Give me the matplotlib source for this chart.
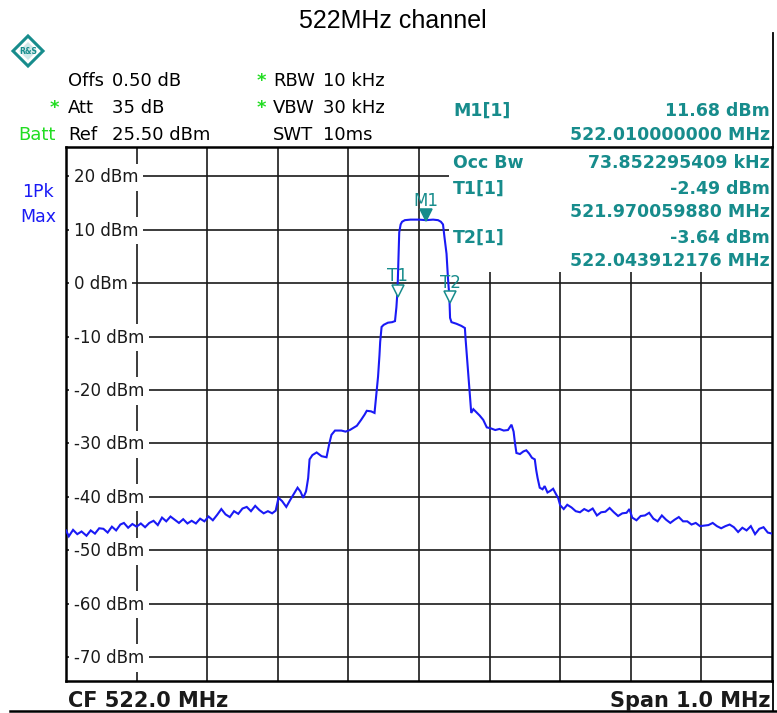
import matplotlib
matplotlib.use("Agg")
import matplotlib.pyplot as plt
import matplotlib.transforms as mtransforms
from matplotlib.patches import Rectangle, Polygon
from matplotlib.lines import Line2D

# ---------------- data ----------------
title = "522MHz channel"
center_mhz = 522.0
span_mhz = 1.0
ref_level = 25.5
range_db = 100.0

ytick_values = [20, 10, 0, -10, -20, -30, -40, -50, -60, -70]
ytick_labels = ["20 dBm", "10 dBm", "0 dBm", "-10 dBm", "-20 dBm", "-30 dBm",
                "-40 dBm", "-50 dBm", "-60 dBm", "-70 dBm"]
xgrid_offsets_mhz = [-0.4, -0.3, -0.2, -0.1, 0.0, 0.1, 0.2, 0.3, 0.4]

# trace: (offset from centre in kHz, level in dBm)
trace_left_noise = [
    (-500, -46.3), (-496, -47.4), (-490, -46.2), (-484, -47.0), (-478, -46.5), (-471, -47.3),
    (-465, -46.3), (-459, -46.9), (-453, -45.9), (-447, -46.0), (-441, -46.7), (-435, -45.6),
    (-429, -46.3), (-423, -45.2), (-418, -44.9), (-412, -45.8), (-406, -45.1), (-400, -45.6),
    (-394, -45.0), (-388, -45.7), (-382, -44.9), (-376, -44.5), (-370, -45.3), (-364, -43.9),
    (-358, -44.6), (-352, -43.7), (-346, -44.3), (-340, -44.9), (-334, -44.2), (-328, -45.0),
    (-322, -44.5), (-316, -45.0), (-310, -44.1), (-304, -44.6), (-298, -43.7), (-292, -44.4),
    (-286, -43.4), (-280, -42.3), (-274, -43.3), (-268, -43.8), (-262, -42.7), (-256, -43.2),
    (-250, -42.2), (-244, -41.9), (-238, -42.7), (-232, -41.7), (-226, -42.5), (-220, -43.1),
    (-214, -42.7), (-208, -43.1), (-203, -42.6),
]
trace_left_shoulder = [
    (-199, -40.2), (-194, -40.8), (-188, -41.9), (-182, -40.5), (-176, -39.2), (-172, -38.3),
    (-168, -39.0), (-164, -40.2), (-160, -39.0), (-157, -36.5), (-155, -33.0), (-151, -32.2),
    (-145, -31.7), (-138, -32.4), (-131, -32.6), (-127, -30.0), (-124, -28.4), (-119, -27.6),
    (-110, -27.6), (-104, -27.8), (-98, -27.5), (-93, -27.1), (-88, -26.7), (-82, -25.6),
    (-77, -24.6), (-74, -23.9), (-68, -24.0), (-63, -24.3), (-61, -21.5), (-60, -20.1),
    (-58, -17.5), (-56, -13.5), (-55, -11.0), (-53, -8.2), (-50, -7.8), (-44, -7.4),
    (-38, -7.3), (-34, -7.1),
]
trace_main = [
    (-32, -4.5), (-31, -2.5), (-30, 0.5), (-29, 5.0), (-28, 9.5), (-26, 11.0), (-24, 11.5),
    (-20, 11.8), (-12, 11.9), (0, 11.9), (10, 11.8), (20, 11.9), (27, 11.8), (31, 11.5),
    (34, 11.0), (36, 8.7), (39, 5.5), (41, 1.0), (43, -2.5), (44, -6.5), (46, -7.3),
    (53, -7.6), (60, -8.0), (65, -8.4),
]
trace_right_shoulder = [
    (66, -10.5), (68, -14.0), (70, -17.5), (72, -21.0), (74, -24.3), (77, -23.6), (80, -24.0),
    (86, -24.8), (91, -25.6), (96, -27.0), (102, -27.2), (108, -27.5), (114, -27.3),
    (120, -27.6), (126, -27.5), (131, -26.5), (134, -27.8), (136, -30.0), (138, -31.8),
    (143, -32.0), (148, -31.5), (152, -31.3), (156, -31.9), (160, -32.7), (164, -33.0),
    (166, -35.0), (168, -36.5), (171, -38.3), (175, -38.6), (178, -38.0), (182, -39.2),
    (186, -38.9), (190, -38.5), (194, -39.5), (197, -40.2),
]
trace_right_noise = [
    (200, -41.6), (205, -42.3), (210, -41.5), (216, -42.0), (222, -42.7), (228, -42.9),
    (234, -42.3), (240, -42.7), (246, -42.2), (252, -43.5), (258, -42.9), (264, -42.8),
    (270, -42.1), (276, -42.9), (282, -43.6), (288, -43.1), (294, -43.0), (298, -42.3),
    (302, -43.9), (308, -44.4), (314, -43.6), (320, -43.5), (326, -43.0), (332, -44.1),
    (338, -44.6), (344, -43.5), (350, -44.3), (356, -44.9), (362, -44.3), (368, -43.8),
    (374, -44.6), (380, -44.6), (386, -45.2), (392, -44.9), (398, -45.5), (404, -45.4),
    (410, -45.3), (416, -44.9), (422, -45.5), (428, -45.9), (434, -45.5), (440, -45.2),
    (446, -45.7), (452, -46.6), (458, -45.8), (464, -46.3), (470, -45.5), (476, -47.0),
    (482, -46.0), (488, -45.7), (494, -46.7), (500, -46.9),
]

marker_names = ["M1", "T1", "T2"]
marker_freqs = [522.010000000, 521.970059880, 522.043912176]
marker_levels = [11.68, -2.49, -3.64]
marker_filled = [True, False, False]

header_rows = [
    ("Offs", "0.50 dB", False, "RBW", "10 kHz", True),
    ("Att", "35 dB", True, "VBW", "30 kHz", True),
    ("Ref", "25.50 dBm", False, "SWT", "10ms", False),
]
readout_rows = [
    ("M1[1]", "11.68 dBm"),
    ("", "522.010000000 MHz"),
    ("Occ Bw", "73.852295409 kHz"),
    ("T1[1]", "-2.49 dBm"),
    ("", "521.970059880 MHz"),
    ("T2[1]", "-3.64 dBm"),
    ("", "522.043912176 MHz"),
]
footer_left = "CF 522.0 MHz"
footer_right = "Span 1.0 MHz"

# ---------------- figure ----------------
W, H = 777, 713
fig = plt.figure(figsize=(W / 100, H / 100), dpi=100)
fig.patch.set_facecolor("white")


def fx(x):
    return x / W


def fy(y):
    return 1 - y / H


TEAL = "#178c8c"
GREEN = "#22dd22"
BLUE = "#1a1af5"
INK = "#1a1a1a"

ax = fig.add_axes([fx(66), fy(681), fx(772) - fx(66), fy(147) - fy(681)])
ax.set_xlim(center_mhz - span_mhz / 2, center_mhz + span_mhz / 2)
ax.set_ylim(ref_level - range_db, ref_level)
ax.set_xticks([center_mhz + o for o in xgrid_offsets_mhz])
ax.set_yticks(ytick_values)
ax.tick_params(length=0, labelbottom=False, labelleft=False)
ax.set_axisbelow(True)
ax.grid(True, color=INK, linewidth=1.2)
for s in ax.spines.values():
    s.set_linewidth(1.8)
    s.set_color("black")

# white read-out area in the upper right of the diagram
ax.add_patch(Rectangle((0.5425, 0.766), 0.46, 0.24, transform=ax.transAxes,
                       facecolor="white", edgecolor="none", zorder=1, clip_on=True))

# y labels with white background breaking the grid
lab_tr = mtransforms.blended_transform_factory(ax.transAxes, ax.transData) + \
    mtransforms.ScaledTranslation(0, -6 / 100, fig.dpi_scale_trans)
for v, lab in zip(ytick_values, ytick_labels):
    ax.text(0.011, v, lab, transform=lab_tr, ha="left", va="baseline",
            fontsize=12, color=INK, family="DejaVu Sans", zorder=2,
            bbox=dict(boxstyle="square,pad=0.28", facecolor="white", edgecolor="none"))

# trace
pts = trace_left_noise + trace_left_shoulder + trace_main + trace_right_shoulder + trace_right_noise
trace_f = [center_mhz + k / 1000 for k, _ in pts]
trace_l = [l for _, l in pts]
ax.plot(trace_f, trace_l, color=BLUE, linewidth=1.5, zorder=4, solid_joinstyle="miter")

# markers
ms = 8
for name, f, l, filled in zip(marker_names, marker_freqs, marker_levels, marker_filled):
    tr = ax.transData + mtransforms.ScaledTranslation(0, ms / 2 / 72, fig.dpi_scale_trans)
    ax.plot([f], [l], marker="v", markersize=ms, color=TEAL,
            markerfacecolor=TEAL if filled else "white", markeredgewidth=1.1,
            transform=tr, zorder=5, clip_on=False)
    trl = ax.transData + mtransforms.ScaledTranslation(0, 15 / 100, fig.dpi_scale_trans)
    ax.text(f, l, name, transform=trl, ha="center", va="baseline", fontsize=12,
            color=TEAL, zorder=6)

# ---------------- header ----------------
fig.text(0.505, fy(28), title, ha="center", va="baseline", fontsize=18,
         family="Liberation Sans", color="black")

# R&S logo diamond
cx, cy, r = 28, 51, 15
diamond = Polygon([(fx(cx), fy(cy - r)), (fx(cx + r), fy(cy)), (fx(cx), fy(cy + r)),
                   (fx(cx - r), fy(cy))], closed=True, transform=fig.transFigure,
                  facecolor="white", edgecolor=TEAL, linewidth=2.2)
fig.patches.append(diamond)
inner = Polygon([(fx(cx), fy(cy - 9)), (fx(cx + 9), fy(cy)), (fx(cx), fy(cy + 9)),
                 (fx(cx - 9), fy(cy))], closed=True, transform=fig.transFigure,
                facecolor="#cfe9e9", edgecolor="none")
fig.patches.append(inner)
fig.text(fx(cx), fy(cy), "R&S", ha="center", va="center", fontsize=5.5, color=TEAL,
         fontweight="bold")

hdr_font = dict(fontsize=13, family="DejaVu Sans", color="black", va="baseline")
baselines = [86, 113, 140]
for (l1, v1, star1, l2, v2, star2), by in zip(header_rows, baselines):
    fig.text(fx(68), fy(by), l1, **hdr_font)
    fig.text(fx(112), fy(by), v1, **hdr_font)
    fig.text(fx(273), fy(by), l2, **hdr_font)
    fig.text(fx(323), fy(by), v2, **hdr_font)
    if star1:
        fig.text(fx(50), fy(by), "*", fontsize=13, color=GREEN, va="baseline",
                 fontweight="bold")
    if star2:
        fig.text(fx(257), fy(by), "*", fontsize=13, color=GREEN, va="baseline",
                 fontweight="bold")
fig.text(fx(18), fy(140), "Batt", fontsize=13, color=GREEN, va="baseline")
fig.text(fx(38), fy(197), "1Pk", fontsize=12.5, color=BLUE, va="baseline", ha="center")
fig.text(fx(38), fy(222), "Max", fontsize=12.5, color=BLUE, va="baseline", ha="center")

ro_font = dict(fontsize=12.5, family="DejaVu Sans", fontweight="bold", color=TEAL,
               va="baseline")
ro_baselines = [116, 140, 168, 194, 217, 243, 266]
for (lab, val), by in zip(readout_rows, ro_baselines):
    if lab:
        fig.text(fx(453), fy(by), lab, ha="left", **ro_font)
    fig.text(fx(770), fy(by), val, ha="right", **ro_font)

# frame lines outside the diagram
fig.lines.append(Line2D([fx(773), fx(773)], [fy(33), fy(147)], transform=fig.transFigure,
                        color="black", linewidth=1.3))
fig.lines.append(Line2D([fx(773), fx(773)], [fy(681), fy(711)], transform=fig.transFigure,
                        color="black", linewidth=1.3))
fig.lines.append(Line2D([fx(10), fx(777)], [fy(711), fy(711)], transform=fig.transFigure,
                        color="black", linewidth=1.8))

# footer
ft_font = dict(fontsize=15, family="DejaVu Sans", fontweight="bold", color=INK,
               va="baseline")
fig.text(fx(68), fy(707), footer_left, ha="left", **ft_font)
fig.text(fx(770), fy(707), footer_right, ha="right", **ft_font)

fig.savefig("out.png", dpi=100, facecolor="white")
